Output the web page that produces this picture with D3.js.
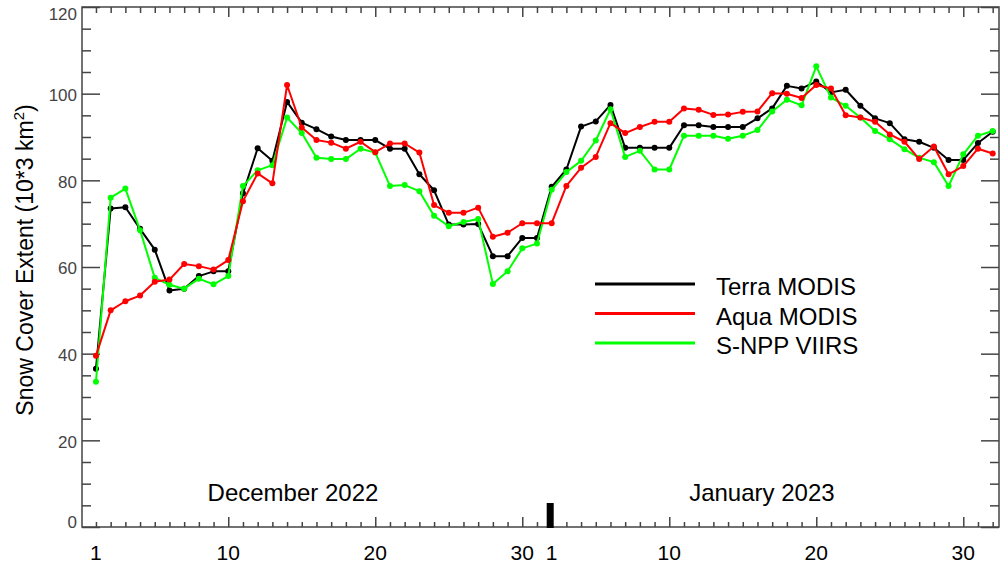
<!DOCTYPE html>
<html><head><meta charset="utf-8">
<script src="https://cdn.jsdelivr.net/npm/d3@7"></script>
<style>body{margin:0;background:#fff}svg{display:block;font-family:"Liberation Sans",Arial,sans-serif}</style>
</head><body><svg id="c" width="1000" height="564"></svg>
<script>
// Day index 0 = 1 Dec 2022 ... 61 = 31 Jan 2023
const dayIndex = d3.range(62);
const terra = [36.5,73.5,73.8,68.8,64.0,54.6,55.0,57.9,59.0,59.0,
  77.0,87.4,84.5,98.1,93.3,91.8,90.1,89.3,89.3,89.3,
  87.3,87.3,81.4,77.7,69.8,69.8,69.9,62.5,62.5,66.7,
  66.7,78.5,82.5,92.4,93.6,97.4,87.5,87.5,87.5,87.5,
  92.7,92.7,92.3,92.3,92.3,94.3,96.6,101.8,101.2,102.8,
  100.3,100.9,97.2,94.3,93.2,89.5,88.9,87.5,84.7,84.7,
  88.6,91.2];
const aqua = [39.5,50.0,52.1,53.4,56.6,57.1,60.7,60.2,59.4,61.6,
  75.2,81.6,79.3,102.0,92.2,89.3,88.7,87.3,88.9,86.5,
  88.5,88.5,86.4,74.3,72.5,72.5,73.7,67.0,67.9,70.1,
  70.1,70.1,78.7,82.9,85.4,93.2,90.9,92.3,93.5,93.5,
  96.6,96.3,95.1,95.2,95.8,95.9,100.1,100.0,99.0,102.0,
  101.2,95.0,94.5,93.5,90.6,88.9,84.9,87.8,81.4,83.3,
  87.3,86.2];
const snpp = [33.5,76.0,78.1,68.5,57.5,55.9,55.0,57.3,56.0,57.9,
  78.7,82.3,83.5,94.5,90.9,85.2,84.9,84.9,87.3,86.4,
  78.7,78.9,77.5,71.8,69.4,70.4,71.1,56.1,59.0,64.3,
  65.4,77.8,81.9,84.5,89.2,96.4,85.4,86.8,82.5,82.5,
  90.3,90.3,90.3,89.6,90.3,91.6,95.9,98.6,97.3,106.3,
  99.1,97.2,94.5,91.4,89.5,87.2,85.2,84.2,78.7,86.0,
  90.3,91.4];
const seriesNames = ["Terra MODIS","Aqua MODIS","S-NPP VIIRS"];
const seriesColors = ["#000000","#ff0000","#00ff00"];
const yMajorTicks = [0,20,40,60,80,100,120];
const yMinorTicks = d3.range(0,121,5);
const xMajorTickIdx = [9,19,29,39,49,59];
const xLabelIdx = [0,9,19,29,31,39,49,59];
const xLabelText = ["1","10","20","30","1","10","20","30"];
const monthBreakIdx = 30.9;
const monthNames = ["December 2022","January 2023"];
const monthCenterIdx = [13.4, 45.3];
const yTitle = "Snow Cover Extent (10*3 km";

const svg = d3.select("#c");
const L=82, R=999, T=7, B=527;
const x = d3.scaleLinear().domain([-0.95,61.43]).range([L,R]);
const y = d3.scaleLinear().domain([0,120]).range([B,T]);
const axisCol = "#444";

// frame
svg.append("rect").attr("x",L).attr("y",T).attr("width",R-L).attr("height",B-T)
  .attr("fill","none").attr("stroke",axisCol).attr("stroke-width",1.5);

function styleAxis(g){ g.select(".domain").remove(); g.selectAll(".tick line").attr("stroke",axisCol).attr("stroke-width",1.5); }

// left axis
svg.append("g").attr("transform",`translate(${L},0)`)
  .call(d3.axisLeft(y).tickValues(yMinorTicks.filter(v=>v%20)).tickSizeInner(-9).tickSizeOuter(0).tickFormat(""))
  .call(styleAxis);
svg.append("g").attr("transform",`translate(${L},0)`)
  .call(d3.axisLeft(y).tickValues(yMajorTicks).tickSizeInner(-18).tickSizeOuter(0).tickPadding(5))
  .call(styleAxis)
  .call(g=>g.selectAll("text").attr("font-size",17).attr("fill","#444").attr("font-family","Liberation Sans, Arial, sans-serif")
    .attr("y",d=> d===120 ? 7 : (d===0 ? -5 : 1.5)));
// right axis
svg.append("g").attr("transform",`translate(${R},0)`)
  .call(d3.axisRight(y).tickValues(yMinorTicks.filter(v=>v%20)).tickSizeInner(-9).tickSizeOuter(0).tickFormat(""))
  .call(styleAxis);
svg.append("g").attr("transform",`translate(${R},0)`)
  .call(d3.axisRight(y).tickValues(yMajorTicks).tickSizeInner(-18).tickSizeOuter(0).tickFormat(""))
  .call(styleAxis);
// bottom axis
svg.append("g").attr("transform",`translate(0,${B})`)
  .call(d3.axisBottom(x).tickValues(dayIndex.filter(i=>!xMajorTickIdx.includes(i))).tickSizeInner(-5).tickSizeOuter(0).tickFormat(""))
  .call(styleAxis);
svg.append("g").attr("transform",`translate(0,${B})`)
  .call(d3.axisBottom(x).tickValues(xMajorTickIdx).tickSizeInner(-10).tickSizeOuter(0).tickFormat(""))
  .call(styleAxis);
svg.append("g").attr("transform",`translate(0,${B})`)
  .call(d3.axisBottom(x).tickValues(d3.range(xLabelIdx.length)).tickSize(0).tickPadding(18))
  .call(g=>g.select(".domain").remove())
  .call(g=>g.selectAll(".tick").attr("transform",(d)=>`translate(${x(xLabelIdx[d])},0)`))
  .call(g=>g.selectAll("text").text(d=>xLabelText[d]).attr("font-size",21).attr("fill","#000").attr("font-family","Liberation Sans, Arial, sans-serif"));
// top axis
svg.append("g").attr("transform",`translate(0,${T})`)
  .call(d3.axisTop(x).tickValues(dayIndex.filter(i=>!xMajorTickIdx.includes(i))).tickSizeInner(-6).tickSizeOuter(0).tickFormat(""))
  .call(styleAxis);
svg.append("g").attr("transform",`translate(0,${T})`)
  .call(d3.axisTop(x).tickValues(xMajorTickIdx).tickSizeInner(-10).tickSizeOuter(0).tickFormat(""))
  .call(styleAxis);

// month break thick tick
svg.append("rect").attr("x",x(monthBreakIdx)-3.5).attr("y",503).attr("width",7).attr("height",B-503+1).attr("fill","#000");

// month labels
monthNames.forEach((m,k)=>{
  svg.append("text").attr("x",x(monthCenterIdx[k])).attr("y",501).attr("text-anchor","middle").attr("font-size",24).text(m);
});

// y title
const yt = svg.append("text").attr("transform","translate(33,260) rotate(-90)").attr("text-anchor","middle").attr("font-size",23).attr("fill","#000");
yt.append("tspan").text(yTitle);
yt.append("tspan").attr("dy",-9).attr("font-size",15).text("2");
yt.append("tspan").attr("dy",9).text(")");

// series
const allSeries = [terra, aqua, snpp];
const drawOrder = [0,2,1];
const line = d3.line().x((d,i)=>x(i)).y(d=>y(d));
drawOrder.forEach(k=>{
  const g = svg.append("g");
  g.append("path").datum(allSeries[k]).attr("d",line).attr("fill","none")
    .attr("stroke",seriesColors[k]).attr("stroke-width",2).attr("stroke-linejoin","round");
  g.selectAll("circle").data(allSeries[k]).join("circle")
    .attr("cx",(d,i)=>x(i)).attr("cy",d=>y(d)).attr("r",3).attr("fill",seriesColors[k]);
});

// legend
const legY = [284,313.5,343];
seriesNames.forEach((n,k)=>{
  svg.append("line").attr("x1",595).attr("x2",695).attr("y1",legY[k]).attr("y2",legY[k])
    .attr("stroke",seriesColors[k]).attr("stroke-width",3);
  svg.append("text").attr("x",716).attr("y",legY[k]+11).attr("font-size",24).attr("fill","#000").text(n);
});
</script></body></html>
